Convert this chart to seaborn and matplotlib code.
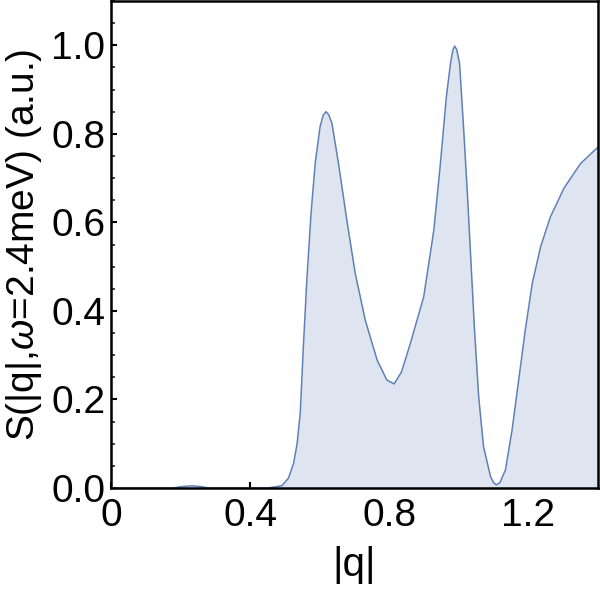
import matplotlib
matplotlib.use("Agg")
import matplotlib.pyplot as plt
import pandas as pd
import seaborn as sns
from matplotlib.ticker import MultipleLocator

# curve (|q|, intensity)
q = [0.0, 0.18, 0.20, 0.233, 0.26, 0.28, 0.30, 0.45, 0.491, 0.51, 0.525, 0.535, 0.544,
     0.553, 0.563, 0.575, 0.587, 0.601, 0.610, 0.618, 0.626, 0.635, 0.654, 0.678,
     0.702, 0.731, 0.765, 0.793, 0.814, 0.835, 0.86, 0.899, 0.928, 0.947, 0.964,
     0.976, 0.983, 0.988, 0.994, 1.002, 1.014, 1.025, 1.035, 1.045, 1.057, 1.071,
     1.091, 1.100, 1.108, 1.118, 1.134, 1.153, 1.172, 1.191, 1.211, 1.235, 1.263,
     1.302, 1.35, 1.40]
s = [0.0, 0.0, 0.003, 0.005, 0.003, 0.0, 0.0, 0.0, 0.005, 0.022, 0.056, 0.10, 0.169,
     0.319, 0.47, 0.62, 0.733, 0.816, 0.842, 0.85, 0.843, 0.824, 0.733, 0.605,
     0.485, 0.379, 0.289, 0.244, 0.235, 0.262, 0.325, 0.432, 0.582, 0.733, 0.883,
     0.959, 0.99, 0.998, 0.99, 0.959, 0.808, 0.658, 0.507, 0.357, 0.206, 0.093,
     0.026, 0.012, 0.007, 0.012, 0.041, 0.131, 0.244, 0.357, 0.462, 0.545, 0.612,
     0.677, 0.733, 0.77]

xticks = [0, 0.4, 0.8, 1.2]
xticklabels = ["0", "0.4", "0.8", "1.2"]
yticks = [0.0, 0.2, 0.4, 0.6, 0.8, 1.0]

df = pd.DataFrame({"q": q, "S": s})

sns.set_style("ticks")
plt.rcParams["font.family"] = ["Liberation Sans", "DejaVu Sans"]
plt.rcParams["mathtext.fontset"] = "custom"
plt.rcParams["mathtext.rm"] = "Liberation Sans"
plt.rcParams["mathtext.it"] = "Liberation Sans:italic"
plt.rcParams["text.color"] = "black"
plt.rcParams["axes.labelcolor"] = "black"

line_color = "#5E81B5"
fill_color = "#DFE5F0"

fig, ax = plt.subplots(figsize=(6.0, 5.9), dpi=100)
fig.subplots_adjust(left=111 / 600, right=598 / 600, top=1 - 1 / 590, bottom=1 - 488 / 590)

ax.fill_between(df["q"], 0, df["S"], color=fill_color, lw=0)
sns.lineplot(data=df, x="q", y="S", ax=ax, color=line_color, lw=1.1, sort=False)

ax.set_xlim(0, 1.4)
ax.set_ylim(0, 1.1)
ax.set_xticks(xticks)
ax.set_xticklabels(xticklabels)
ax.set_yticks(yticks)
ax.set_yticklabels([f"{v:.1f}" for v in yticks])
ax.yaxis.set_minor_locator(MultipleLocator(0.05))

for sp in ax.spines.values():
    sp.set_visible(True)
    sp.set_linewidth(1.8)
    sp.set_color("black")

ax.tick_params(axis="both", which="major", direction="in", length=4, width=1.5,
               labelsize=28, pad=4, colors="black")
ax.tick_params(axis="x", which="major", pad=7)
ax.tick_params(axis="y", which="minor", direction="in", length=3, width=1.2)

ax.set_xlabel("|q|", fontsize=29, labelpad=9)
ax.set_ylabel(r"S(|q|,$\omega$=2.4meV) (a.u.)", fontsize=28, labelpad=5)

fig.savefig("out.png", dpi=100)
